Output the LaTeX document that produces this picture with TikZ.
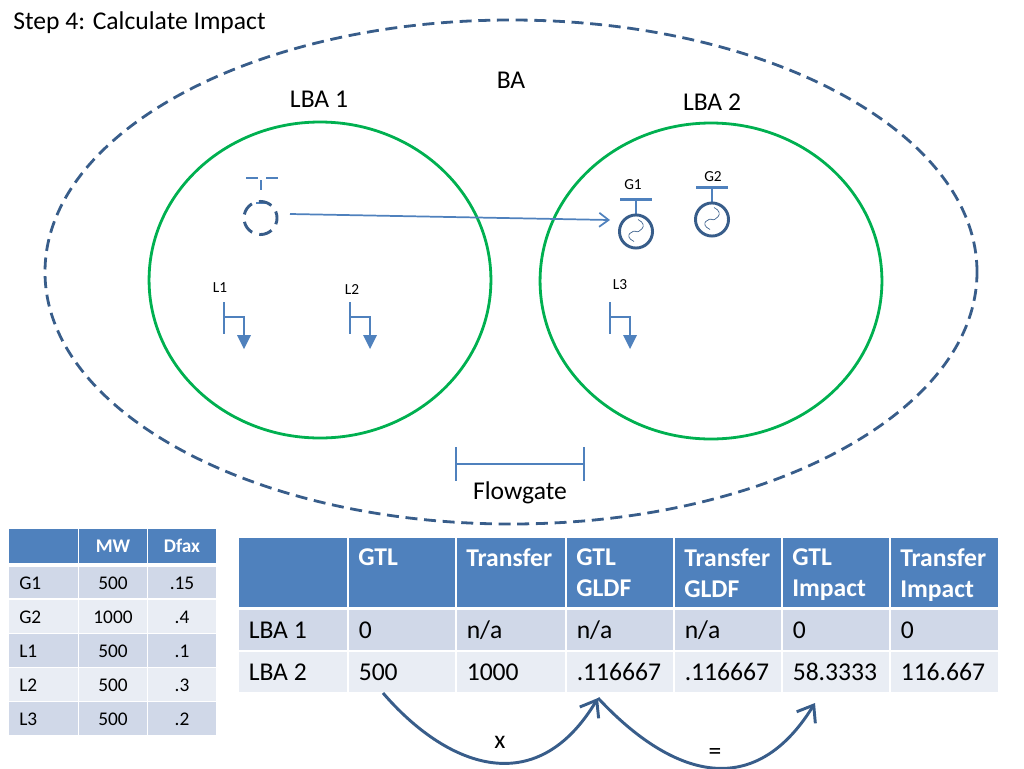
\documentclass[tikz,border=0pt]{standalone}
\usepackage{fontspec}
\setmainfont{Carlito}
\usetikzlibrary{arrows.meta}
\definecolor{ppblue}{RGB}{79, 129, 189}
\definecolor{ppdark}{RGB}{56, 93, 138}
\definecolor{ppgreen}{RGB}{0, 176, 80}
\definecolor{rowdark}{RGB}{208, 216, 232}
\definecolor{rowlight}{RGB}{233, 237, 244}
\tikzset{
  bigtext/.style={font=\fontsize{19.2}{23.5}\selectfont, inner sep=0pt, align=left, anchor=west},
  bighead/.style={bigtext, anchor=north west, text=white, font=\fontsize{19.2}{23.5}\selectfont\bfseries},
  smalltext/.style={font=\fontsize{14.5}{17}\selectfont, inner sep=0pt},
  tiny label/.style={font=\fontsize{11.5}{13}\selectfont, inner sep=0pt},
  main label/.style={font=\fontsize{19.2}{23}\selectfont, inner sep=0pt},
  busline/.style={ppblue, line width=1.8pt},
  genring/.style={ppdark, line width=2.2pt},
  barb/.style={-{Straight Barb[length=#1, width=1.5*#1]}}
}
% one generator: circle with wave, stem and bus bar
\newcommand{\genbus}[2]{
  \draw[busline] (#1-16,#2-32) -- (#1+16,#2-32);
  \draw[busline, line width=1.2pt] (#1,#2-32) -- (#1,#2-16.5);
  \draw[genring] (#1,#2) circle (12.4pt);
  \draw[ppdark, line width=0.5pt] (#1-2,#2+10) .. controls (#1-14,#2+4) and (#1-2,#2-2) .. (#1,#2) .. controls (#1+2,#2+2) and (#1+14,#2-6) .. (#1+2,#2-12);
}
% one load: bar, elbow and filled arrow
\newcommand{\loadbus}[2]{
  \draw[busline] (#1,#2) -- (#1,#2+32);
  \draw[busline] (#1,#2+15) -- (#1+20,#2+15) -- (#1+20,#2+34);
  \fill[ppblue] (#1+13,#2+33) -- (#1+27,#2+33) -- (#1+20,#2+47) -- cycle;
}
\begin{document}
\begin{tikzpicture}[x=0.75pt, y=-0.75pt]
\useasboundingbox (0,0) rectangle (1024,768);

% Areas
\draw[ppdark, line width=2.1pt, dash pattern=on 9pt off 5pt] (511,272) ellipse (349.5pt and 189pt);
\draw[ppgreen, line width=2.1pt] (320,280) ellipse (128.2pt and 118.5pt);
\draw[ppgreen, line width=2.1pt] (711,281) ellipse (128.2pt and 118.5pt);

% Labels
\node[main label, anchor=west] (title) at (13,23) {Step 4: Calculate Impact};
\node[main label] (ba) at (511,80) {BA};
\node[main label] (lba1) at (319,99) {LBA 1};
\node[main label] (lba2) at (712,102) {LBA 2};
\node[main label] (fg) at (520,493) {Flowgate};

% Flowgate
\draw[busline] (456,447) -- (456,481);
\draw[busline] (584,447) -- (584,481);
\draw[busline] (456,464) -- (584,464);

% Old generator position
\draw[busline, dash pattern=on 9pt off 6pt] (246,178) -- (278,178);
\draw[busline] (261,180) -- (261,190);
\draw[busline] (256,203) -- (266,203);
\draw[genring, dash pattern=on 10pt off 5.6pt, dash phase=5pt] (260.5,218) circle (12.4pt);

% Generators and loads
\genbus{636}{231.5}
\genbus{712}{219.5}
\loadbus{224}{302}
\loadbus{350}{302}
\loadbus{610}{302}
\node[tiny label] (g1) at (633,185) {G1};
\node[tiny label] (g2) at (713,177) {G2};
\node[tiny label] (l1) at (220,288) {L1};
\node[tiny label] (l2) at (352,290) {L2};
\node[tiny label] (l3) at (620,285) {L3};

% Transfer arrow
\coordinate (from) at (290,214);
\coordinate (to) at (610,220);
\draw[barb=7pt, ppblue, line width=1.3pt] (from) -- (to);

% Small table
\foreach \a/\b/\hd/\g/\h/\i/\j/\k in {9/78/{}/G1/G2/L1/L2/L3, 79/147/MW/500/1000/500/500/500, 148/216/Dfax/.15/.4/.1/.3/.2} {
  \fill[ppblue] (\a,529) rectangle (\b,563);
  \fill[rowdark] (\a,567) rectangle (\b,598);
  \fill[rowlight] (\a,600) rectangle (\b,633);
  \fill[rowdark] (\a,634) rectangle (\b,667);
  \fill[rowlight] (\a,668) rectangle (\b,701);
  \fill[rowdark] (\a,702) rectangle (\b,735);
  \ifnum\a=9
    \node[smalltext, anchor=west] (s\a g) at (19,583) {\g};
    \node[smalltext, anchor=west] (s\a h) at (19,617) {\h};
    \node[smalltext, anchor=west] (s\a i) at (19,651) {\i};
    \node[smalltext, anchor=west] (s\a j) at (19,685) {\j};
    \node[smalltext, anchor=west] (s\a k) at (19,719) {\k};
  \else
    \node[smalltext, text=white, font=\fontsize{14.5}{17}\selectfont\bfseries] (s\a) at ({(\a+\b)/2},546) {\hd};
    \node[smalltext] (s\a g) at ({(\a+\b)/2},583) {\g};
    \node[smalltext] (s\a h) at ({(\a+\b)/2},617) {\h};
    \node[smalltext] (s\a i) at ({(\a+\b)/2},651) {\i};
    \node[smalltext] (s\a j) at ({(\a+\b)/2},685) {\j};
    \node[smalltext] (s\a k) at ({(\a+\b)/2},719) {\k};
  \fi
}

% Big table
\foreach \a/\b/\hd/\r/\s in {239/347/{}/LBA 1/LBA 2, 349/455/GTL/0/500, 457/565/Transfer/n\slash a/1000,
  567/673/{GTL\\GLDF}/n\slash a/.116667, 675/781/{Transfer\\GLDF}/n\slash a/.116667,
  783/889/{GTL\\Impact}/0/58.3333, 891/998/{Transfer\\Impact}/0/116.667} {
  \fill[ppblue] (\a,538) rectangle (\b,607);
  \fill[rowdark] (\a,610) rectangle (\b,650);
  \fill[rowlight] (\a,652) rectangle (\b,692);
  \node[bighead] (b\a) at (\a+9,548) {\hd};
  \node[bigtext] (b\a r) at (\a+9.5,630) {\r};
  \node[bigtext] (b\a s) at (\a+9.5,672) {\s};
}

% Curved arrows
\coordinate (ca) at (383,693);
\coordinate (cb) at (598,698);
\coordinate (cc) at (815,703);
\draw[barb=11pt, ppdark, line width=2.2pt] (ca) .. controls (445,765) and (535,803) .. (cb);
\draw[barb=11pt, ppdark, line width=2.2pt] (cb) .. controls (665,770) and (750,808) .. (cc);
\node[main label] (times) at (500,742) {x};
\node[main label] (equals) at (715,754) {=};
\end{tikzpicture}
\end{document}
